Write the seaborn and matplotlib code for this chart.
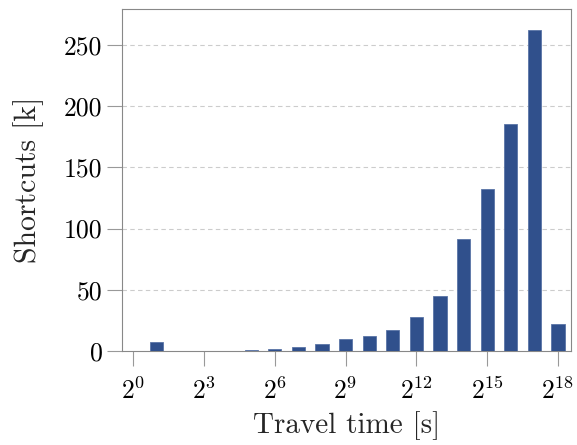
import matplotlib
matplotlib.use("Agg")
import matplotlib.pyplot as plt
import seaborn as sns
import pandas as pd

# Data: exponent of travel time (2^k seconds) and shortcut counts (thousands)
exponents = [1, 2, 3, 4, 5, 6, 7, 8, 9, 10, 11, 12, 13, 14, 15, 16, 17, 18]
shortcuts_k = [7.0, 0.1, 0.1, 0.2, 0.6, 2.0, 3.3, 6.0, 9.6, 12.6, 17.0, 28.0, 45.0, 91.5, 132.0, 185.5, 262.5, 22.4]
xtick_exps = [0, 3, 6, 9, 12, 15, 18]
ytick_vals = [0, 50, 100, 150, 200, 250]

df = pd.DataFrame({"exp": exponents, "val": shortcuts_k})

sns.set_theme(style="white")
plt.rcParams["font.family"] = ["cmr10", "DejaVu Serif"]
plt.rcParams["mathtext.fontset"] = "cm"
plt.rcParams["axes.formatter.use_mathtext"] = True

fig = plt.figure(figsize=(5.77, 4.45), dpi=100)
ax = fig.add_axes([122/577, 1 - 351/445, (571-122)/577, (351-9)/445])

sns.barplot(data=df, x="exp", y="val", native_scale=True, width=0.56,
            color="#30508c", saturation=1, edgecolor="#5a74a6", linewidth=0.6,
            ax=ax, zorder=3)

ax.set_xlim(-0.47, 18.55)
ax.set_ylim(0, 279.4)
ax.set_xticks(xtick_exps)
ax.set_xticklabels([f"$2^{{{k}}}$" for k in xtick_exps])
ax.set_yticks(ytick_vals)
ax.set_yticklabels([str(v) for v in ytick_vals])

for v in ytick_vals[1:]:
    ax.axhline(v, color="#cccccc", lw=0.8, ls=(0, (4, 3)), zorder=1)

for s in ax.spines.values():
    s.set_color("#888888")
    s.set_linewidth(0.8)

ax.tick_params(axis="both", direction="out", length=11, width=0.8, color="#999999",
               labelsize=18.5, labelcolor="black", pad=3, bottom=True, left=True)
ax.tick_params(axis="x", pad=8)

ax.set_xlabel("Travel time [s]", fontsize=21, labelpad=5)
ax.set_ylabel("Shortcuts [k]", fontsize=21.5, labelpad=14)

fig.savefig("out.png", dpi=100)
